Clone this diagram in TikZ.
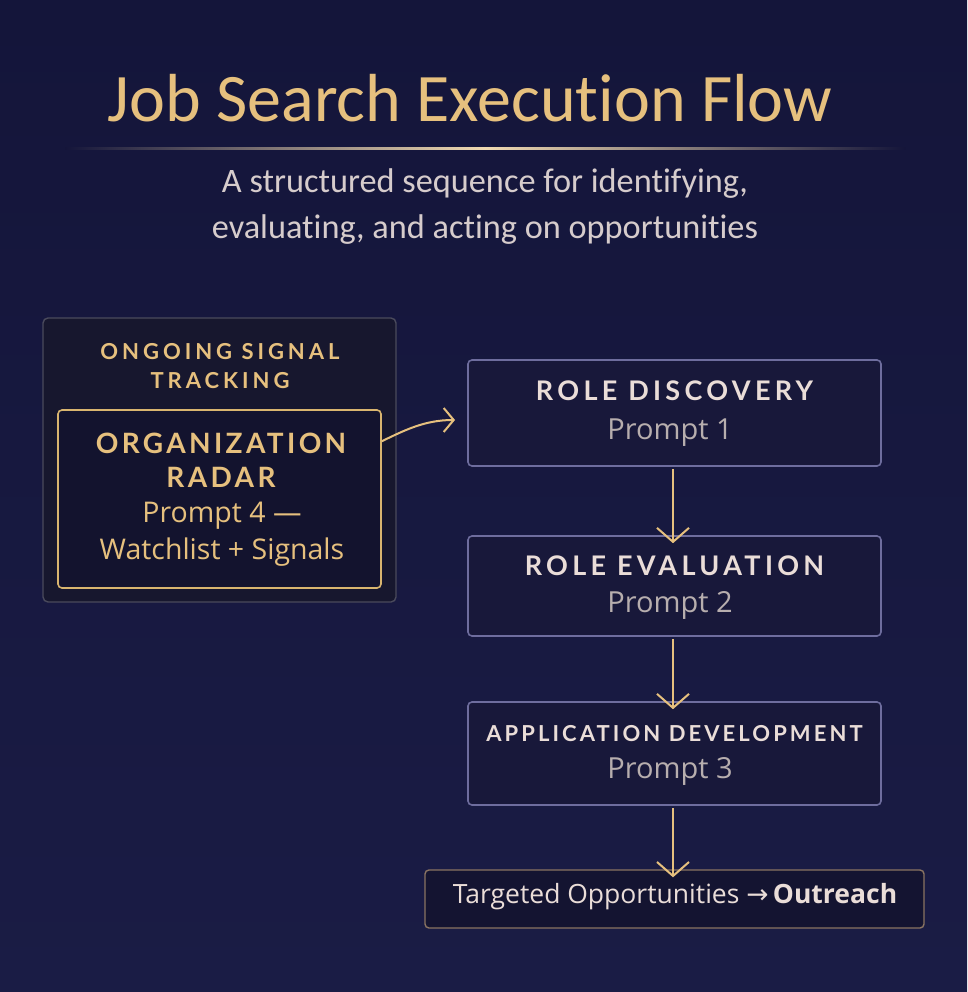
\documentclass[tikz,border=0pt]{standalone}
\usepackage{fontspec}
\setmainfont{Open Sans}[Ligatures=NoCommon]
\newfontfamily\titlefont{Carlito}[Ligatures=NoCommon]
\newfontfamily\capsfont{Lato}[LetterSpace=16]
\newfontfamily\symfont{DejaVu Sans}
\usetikzlibrary{arrows.meta,shadings}
\definecolor{bgtop}{HTML}{14153A}
\definecolor{bgbot}{HTML}{1A1C45}
\definecolor{gold}{HTML}{E6C07E}
\definecolor{goldline}{HTML}{D9B56F}
\definecolor{lav}{HTML}{6E6D9E}
\definecolor{boxfill}{HTML}{18183A}
\definecolor{outerfill}{HTML}{17172E}
\definecolor{outerline}{HTML}{4A4A5C}
\definecolor{lighttxt}{HTML}{EADDD8}
\definecolor{graytxt}{HTML}{B7AEAE}
\definecolor{subtxt}{HTML}{D6CCCC}
\definecolor{endline}{HTML}{8A7462}
\tikzset{
  x=1pt,y=-1pt,
  stepbox/.style={draw=lav,line width=1.6pt,fill=boxfill,rounded corners=4pt},
  flowarrow/.style={draw=gold,line width=2pt,-{Straight Barb[length=14pt,width=32pt,line width=2pt]}},
  headtxt/.style={text=lighttxt,font=\capsfont\bfseries\fontsize{27}{30}\selectfont},
  subtext/.style={text=graytxt,font=\fontsize{29}{33}\selectfont},
}
\begin{document}
\begin{tikzpicture}
\useasboundingbox (0,0) rectangle (967,992);
\shade[top color=bgtop,bottom color=bgbot] (0,0) rectangle (967,992);
% title
\node (title) at (470,98) {\titlefont\fontsize{68}{76}\selectfont\color{gold}Job Search Execution Flow};
% rule
\shade[left color=bgtop,right color=gold!60!white] (65,148) rectangle (485,150);
\shade[left color=gold!60!white,right color=bgtop] (485,148) rectangle (905,150);
\node[text=subtxt,align=center,font=\titlefont\fontsize{34.3}{46}\selectfont] (sub) at (485,207) {A structured sequence for identifying,\\evaluating, and acting on opportunities};
% left group
\draw[draw=outerline,line width=1.4pt,fill=outerfill,rounded corners=5pt] (43,318) rectangle (396,602);
\node[text=gold,align=center,font=\capsfont\bfseries\addfontfeature{LetterSpace=18}\fontsize{22}{29}\selectfont] (ongoing) at (220,366) {ONGOING SIGNAL\\TRACKING};
\node[draw=goldline,line width=1.6pt,fill=boxfill!80!black,rounded corners=4pt,minimum width=323pt,minimum height=178pt] (radar) at (219.5,499) {};
\node[text=gold,align=center,font=\capsfont\bfseries\addfontfeature{LetterSpace=12}\fontsize{28}{34}\selectfont] (radarhead) at (221,460) {ORGANIZATION\\RADAR};
\node[text=gold,align=center,font=\fontsize{28.5}{37}\selectfont] (radarsub) at (222,534) {Prompt 4 —\\Watchlist + Signals};
% right boxes
\node[stepbox,minimum width=413pt,minimum height=106pt] (b1) at (674.5,413) {};
\node[headtxt] (b1h) at (674.5,391) {ROLE DISCOVERY};
\node[subtext] (b1s) at (670,433) {Prompt 1};
\node[stepbox,minimum width=413pt,minimum height=100pt] (b2) at (674.5,586) {};
\node[headtxt] (b2h) at (674.5,566) {ROLE EVALUATION};
\node[subtext] (b2s) at (670,605) {Prompt 2};
\node[stepbox,minimum width=413pt,minimum height=103pt] (b3) at (674.5,753.5) {};
\node[headtxt,font=\capsfont\bfseries\addfontfeature{LetterSpace=14}\fontsize{22}{24}\selectfont] (b3h) at (674.5,734) {APPLICATION DEVELOPMENT};
\node[subtext] (b3s) at (670,771) {Prompt 3};
\node[draw=endline,line width=1.4pt,fill=boxfill!85!black,rounded corners=4pt,minimum width=499pt,minimum height=58pt] (b4) at (674.5,899) {};
\node[text=lighttxt,font=\fontsize{26.5}{30}\selectfont] (b4t) at (675,897) {Targeted Opportunities {\symfont→}\,\textbf{Outreach}};
% connectors
\draw[flowarrow] (b1.south -| b1s.south) ++(3,2) -- ([xshift=3pt,yshift=-8pt]b2.north -| b2s.south);
\draw[flowarrow] (b2.south -| b2s.south) ++(3,2) -- ([xshift=3pt,yshift=-8pt]b3.north -| b3s.south);
\draw[flowarrow] (b3.south -| b3s.south) ++(3,2) -- ([xshift=3pt,yshift=-8pt]b4.north -| b3s.south);
\draw[flowarrow,-{Straight Barb[length=10pt,width=24pt,line width=2pt]}] (radar.east |- radarhead.north) ++(0,12) .. controls (405,430) and (425,420) .. (455,420);
\end{tikzpicture}
\end{document}
